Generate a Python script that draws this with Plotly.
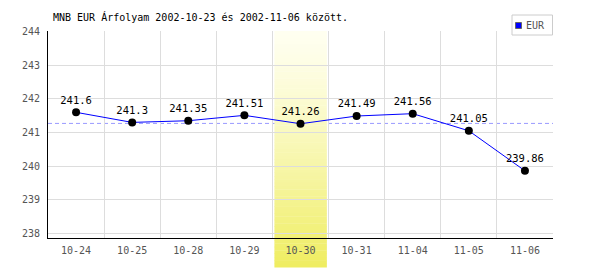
import plotly.graph_objects as go

# ---- data ----
dates = ["10-24", "10-25", "10-28", "10-29", "10-30", "10-31", "11-04", "11-05", "11-06"]
eur = [241.6, 241.3, 241.35, 241.51, 241.26, 241.49, 241.56, 241.05, 239.86]
labels = ["241.6", "241.3", "241.35", "241.51", "241.26", "241.49", "241.56", "241.05", "239.86"]
avg_value = 241.27
highlight = "10-30"
y_ticks = [238, 239, 240, 241, 242, 243, 244]
title = "MNB EUR Árfolyam 2002-10-23 és 2002-11-06 között."
series_name = "EUR"

FONT = "DejaVu Sans Mono"
W, H = 600, 270
L, R, T, B = 48, 553, 31, 238


def px(xp):
    return (xp - L) / (R - L)


def py(yp):
    return (B - yp) / (B - T)


fig = go.Figure()
fig.add_trace(go.Scatter(
    x=dates, y=eur, mode="lines+markers+text",
    text=labels, textposition="top center",
    textfont=dict(family=FONT, size=10.5, color="black"),
    line=dict(color="#0000ff", width=1),
    marker=dict(color="black", size=8),
    showlegend=False, cliponaxis=False,
))

shapes = []
# average line
shapes.append(dict(type="line", xref="paper", yref="y", x0=0, x1=1, y0=avg_value, y1=avg_value,
                   line=dict(color="#9999ff", width=1, dash="4px,3px"), layer="between"))
# highlight gradient strips
hi = dates.index(highlight)
top_c = (255, 255, 240)
bot_c = (239, 237, 96)
y_top = 1.0
y_bot = py(267)
N = 70
for i in range(N):
    t = (i + 0.5) / N
    tt = t ** 1.25
    c = tuple(round(a + (b - a) * tt) for a, b in zip(top_c, bot_c))
    ya = y_top + (y_bot - y_top) * i / N
    yb = y_top + (y_bot - y_top) * (i + 1) / N
    shapes.append(dict(type="rect", xref="x", yref="paper",
                       x0=hi - 0.5 + 0.035, x1=hi + 0.5 - 0.03,
                       y0=yb - 0.002, y1=ya,
                       fillcolor="rgb(%d,%d,%d)" % c, line=dict(width=0), layer="between"))
# manual legend
shapes.append(dict(type="rect", xref="paper", yref="paper", x0=px(512), x1=px(552.5), y0=py(35), y1=py(15),
                   fillcolor="white", line=dict(color="#cccccc", width=1), layer="above"))
shapes.append(dict(type="rect", xref="paper", yref="paper", x0=px(515.5), x1=px(521.5), y0=py(28.5), y1=py(22.5),
                   fillcolor="#0000ff", line=dict(color="#666666", width=1), layer="above"))

annotations = [
    dict(text=series_name, xref="paper", yref="paper", x=px(523.5), y=py(25.5),
         xanchor="left", yanchor="middle", showarrow=False,
         font=dict(family=FONT, size=10, color="#555555")),
]

fig.update_layout(
    width=W, height=H,
    margin=dict(l=L, r=W - R, t=T, b=H - B, pad=0),
    paper_bgcolor="white", plot_bgcolor="white",
    showlegend=False,
    title=dict(text=title, x=53 / W, xanchor="left", xref="container",
               y=1 - 17 / H, yanchor="middle", yref="container",
               font=dict(family=FONT, size=10, color="black")),
    shapes=shapes, annotations=annotations,
    xaxis=dict(type="category", range=[-0.5, len(dates) - 0.5], tickson="boundaries",
               showgrid=True, gridcolor="#dddddd", gridwidth=1,
               showline=True, linecolor="black", linewidth=1,
               ticks="", ticklabelstandoff=3,
               tickfont=dict(family=FONT, size=10, color="#555555")),
    yaxis=dict(range=[237.86, 244.02], tickvals=y_ticks,
               showgrid=True, gridcolor="#dddddd", gridwidth=1, zeroline=False,
               showline=True, linecolor="black", linewidth=1,
               ticks="", ticklabelstandoff=5,
               tickfont=dict(family=FONT, size=10, color="#555555")),
)

fig.write_html("out.html")
